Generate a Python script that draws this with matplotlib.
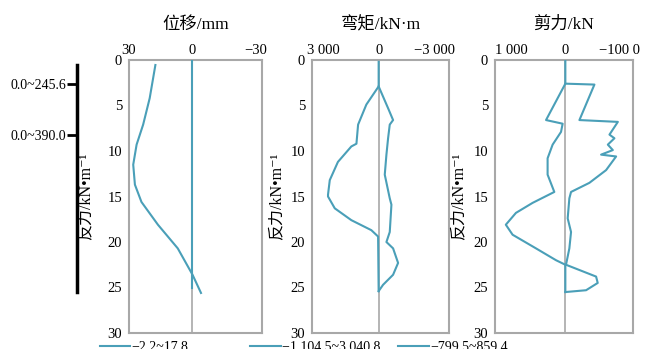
import matplotlib
matplotlib.use("Agg")
import matplotlib.pyplot as plt
from matplotlib.lines import Line2D

plt.rcParams['font.family'] = ['Liberation Serif', 'Noto Sans CJK SC', 'DejaVu Serif']
plt.rcParams['axes.unicode_minus'] = True

# depth (m) / value pairs
disp_depth = [0.55, 4.2, 7.1, 9.3, 11.5, 13.7, 15.6, 18.1, 20.7, 23.6, 25.6]
disp_val = [17.5, 20.2, 23.3, 26.4, 28.0, 27.2, 24.1, 16.3, 6.9, -0.1, -4.1]
disp2_depth = [0, 25]
disp2_val = [0, 0]

mom_a_depth = [0.2, 2.9, 4.9, 7.1, 9.2, 9.5, 11.2, 13.2, 14.8, 15.0, 16.3, 17.6, 18.7, 19.4, 25.4]
mom_a_val = [0, 0, 665, 1110, 1200, 1475, 2200, 2640, 2735, 2735, 2370, 1475, 395, 30, 0]
mom_b_depth = [2.9, 5.3, 6.6, 7.1, 8.6, 10.4, 12.6, 15.2, 15.9, 18.9, 20.0, 20.7, 22.3, 23.6, 24.7, 25.4]
mom_b_val = [0, -510, -780, -600, -510, -420, -330, -600, -690, -600, -420, -780, -1050, -780, -240, 0]

shear_a_depth = [0, 2.6, 2.7, 6.6, 6.8, 8.2, 8.6, 9.3, 9.9, 10.4, 10.6, 12.1, 13.5, 14.5, 15.2,
                 17.4, 18.9, 20.7, 22.5, 23.8, 24.5, 25.3, 25.5]
shear_a_val = [0, 0, -537, -260, -970, -815, -907, -785, -877, -660, -938, -753, -444, -105, -74,
               -43, -105, -74, -12, -568, -598, -383, 0]
shear_b_depth = [2.6, 6.6, 7.0, 7.9, 9.3, 10.8, 12.6, 14.5, 15.7, 16.8, 18.1, 19.2, 20.7, 22.0, 22.5, 25.5]
shear_b_val = [0, 357, 50, 80, 235, 328, 328, 204, 605, 913, 1100, 975, 543, 173, 0, 0]

titles = ['位移/mm', '弯矩/kN·m', '剪力/kN']
ranges = ['−2.2~17.8', '−1 104.5~3 040.8', '−799.5~859.4']
xticks = [[30, 0, -30], [3000, 0, -3000], [1000, 0, -1000]]
xticklabels = [['30', '0', '−30'], ['3 000', '0', '−3 000'], ['1 000', '0', '−100 0']]
xlims = [(30, -33), (3600, -3800), (1300, -1250)]
react_ticks = [2.6, 8.2]
react_labels = ['0.0~245.6', '0.0~390.0']
bar_span = (0.5, 25.5)

c = '#4a9fb8'
W, H = 654, 349
fig = plt.figure(figsize=(W / 100, H / 100), dpi=100)

# reaction-force scale bar on the left
sb = fig.add_axes([77 / W, 16 / H, 10 / W, 273 / H])
sb.set_ylim(30, 0)
sb.set_xlim(0, 1)
for k in ['top', 'right', 'bottom']:
    sb.spines[k].set_visible(False)
sb.spines['left'].set_bounds(*bar_span)
sb.spines['left'].set_linewidth(2.5)
sb.set_xticks([])
sb.set_yticks(react_ticks)
sb.set_yticklabels(react_labels)
sb.tick_params(axis='y', length=7, width=2, pad=0.5, labelsize=10)
sb.patch.set_visible(False)

boxes = [(129, 133), (312, 137), (495, 138)]
ylab_x = [-0.27, -0.20, -0.21]
leg_x = [-0.22, -0.45, -0.70]
series = [[(disp_depth, disp_val), (disp2_depth, disp2_val)],
          [(mom_a_depth, mom_a_val), (mom_b_depth, mom_b_val)],
          [(shear_a_depth, shear_a_val), (shear_b_depth, shear_b_val)]]

top, bot = 60, 333
for i, (l, w) in enumerate(boxes):
    ax = fig.add_axes([l / W, (H - bot) / H, w / W, (bot - top) / H])
    ax.axvline(0, color='#a8a8a8', lw=1.2, zorder=1)
    for d, v in series[i]:
        ax.plot(v, d, color=c, lw=1.5, zorder=3)
    ax.set_xlim(*xlims[i])
    ax.set_ylim(30, 0)
    ax.set_yticks([0, 5, 10, 15, 20, 25, 30])
    ax.set_xticks(xticks[i])
    ax.set_xticklabels(xticklabels[i])
    ax.xaxis.tick_top()
    ax.tick_params(axis='both', length=0, labelsize=10.5, colors='black')
    ax.tick_params(axis='x', pad=2)
    ax.tick_params(axis='y', pad=5)
    for s in ax.spines.values():
        s.set_color('#a8a8a8')
        s.set_linewidth(1.5)
    ax.set_title(titles[i], fontsize=12.5, y=1.128, va='center', pad=0)
    ax.set_ylabel('反力/kN•m⁻¹', fontsize=11.5)
    ax.yaxis.set_label_coords(ylab_x[i], 0.5)
    ax.legend([Line2D([], [], color=c, lw=1.5)], [ranges[i]], loc='center left',
              bbox_to_anchor=(leg_x[i], -0.052), frameon=False, fontsize=10,
              handlelength=2.2, handletextpad=0.1, borderpad=0, borderaxespad=0)

fig.savefig('out.png', dpi=100)
